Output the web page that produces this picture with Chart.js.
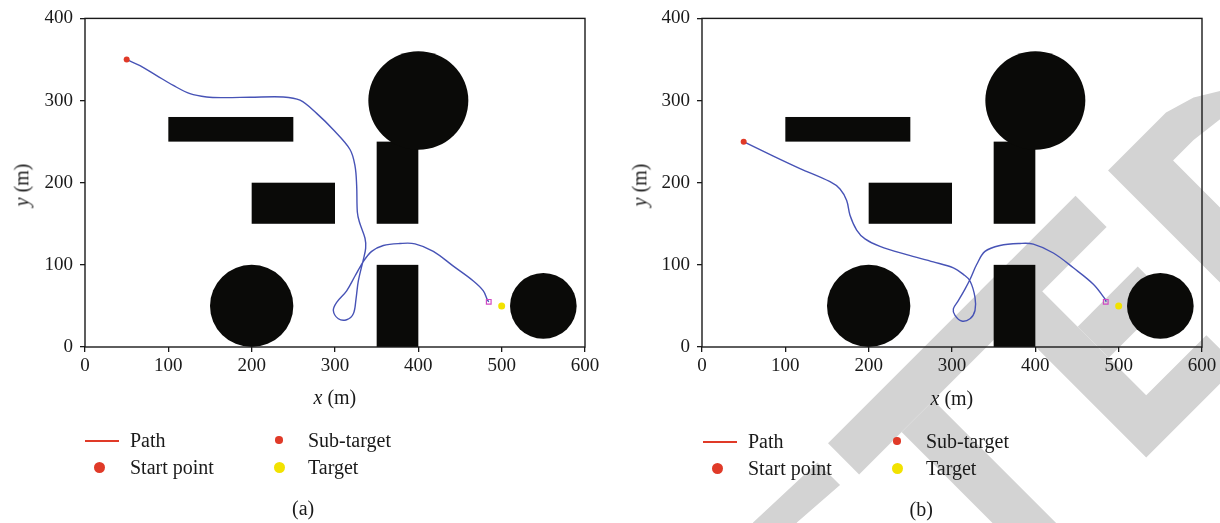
<!DOCTYPE html>
<html>
<head>
<meta charset="utf-8">
<script src="https://cdn.jsdelivr.net/npm/chart.js@4.4.1/dist/chart.umd.min.js"></script>
<style>
  html, body { margin: 0; padding: 0; background: #fff; width: 1220px; height: 523px; overflow: hidden; }
  .panel { position: absolute; top: 0; width: 610px; height: 523px; }
  .panel canvas { position: absolute; left: 0; top: 0; }
  .t { position: absolute; font-family: "Liberation Serif", "Times New Roman", serif; font-size: 20px;
       line-height: 20px; color: #1a1a1a; white-space: nowrap; }
  .line { position: absolute; height: 1.6px; background: #e03a28; }
  .dot { position: absolute; border-radius: 50%; }
</style>
</head>
<body>
<div class="panel" id="pa" style="left:0"><canvas id="ca" width="610" height="523"></canvas></div>
<div class="panel" id="pb" style="left:610px"><canvas id="cb" width="610" height="523"></canvas></div>
<script>
// ---- axes ----
const xTicks = [0, 100, 200, 300, 400, 500, 600];
const yTicks = [0, 100, 200, 300, 400];

// ---- obstacles (metres) ----
const circleCX = [400, 200, 550];
const circleCY = [300, 50, 50];
const circleR  = [60, 50, 40];
const rectX0 = [100, 200, 350, 350];
const rectX1 = [250, 300, 400, 400];
const rectY0 = [250, 150, 150, 0];
const rectY1 = [280, 200, 250, 100];

// ---- start, sub-target and target points ----
const startA = [50, 350];
const startB = [50, 250];
const subTarget = [484.5, 55];
const target = [500, 50];

// ---- planned path (a) ----
const pathAX = [50.8, 66, 86, 106, 126, 146, 166, 198, 238, 258, 278, 298, 318, 324, 326, 326.8, 329.2, 336, 336.8, 334,
                328, 325.2, 322, 314, 304, 298, 302, 314, 324, 334, 344, 358, 378, 396, 418, 442, 466, 478, 482.8, 484.5];
const pathAY = [349.6, 342.4, 330.4, 318.4, 308.4, 304.4, 303.6, 304, 304.4, 300.4, 284.4, 264.4, 240.4, 220.4, 196.4, 164.4, 152.4, 132.4, 120.4, 106.4,
                80.4, 58.4, 40.4, 33.2, 34.4, 44.4, 54.4, 68.4, 86.4, 104, 116.4, 123.6, 126, 125.6, 116.4, 98.4, 80.4, 68.4, 57.6, 55];

// ---- planned path (b) ----
const pathBX = [51, 85.6, 117.6, 153.6, 165.6, 173.6, 177.6, 185.6, 195.6, 213.6, 245.6, 277.6, 301.6, 313.6, 321.6, 327.6, 327.6,
                321.6, 311.6, 303.6, 301.6, 307.6, 315.6, 322, 329.6, 339.6, 357.6, 381.6, 397.6, 421.6, 445.6, 469.6, 483.6, 485];
const pathBY = [249.5, 232.4, 217.2, 201.2, 192.4, 178.4, 160.4, 142.4, 131.6, 122.4, 112.4, 103.6, 96.4, 88.4, 80.4, 60.4, 44.4,
                34.4, 31.6, 38.4, 46.4, 56.4, 70.4, 83, 100.4, 116.4, 123.6, 126, 125.2, 114.4, 96.4, 76.4, 58.4, 55];

const FONT = '"Liberation Serif", "Times New Roman", serif';
const INK = '#1a1a1a';
const PATH_BLUE = '#4753b6';
const RED = '#e03a28';
const YELLOW = '#f2e200';
const MAGENTA = '#d04ac4';

// Diagonal "RETRACTED" watermark pieces, in a frame rotated 45 degrees (u along the text, v across it).
const watermarkShapes = [
  [[120, 912], [163, 902], [251, 905], [251, 937], [194, 933], [150, 948]],
  [[272, 899], [622, 899], [622, 943], [272, 943]],
  [[332, 943], [377, 943], [377, 1134], [332, 1134]],
  [[487, 899], [531, 899], [531, 1090], [616, 1090], [616, 1134], [487, 1134]],
  [[531, 993], [616, 993], [616, 1037], [531, 1037]],
  [[663, 904], [745, 904], [775, 913], [800, 928], [830, 960], [800, 975], [778, 947], [745, 943], [716, 943], [716, 1134], [663, 1134]]
];

const watermarkPlugin = {
  id: 'watermark',
  beforeDraw(chart, args, opts) {
    if (!opts.show) return;
    const ctx = chart.ctx;
    const s = Math.SQRT1_2;
    ctx.save();
    ctx.fillStyle = '#d3d3d3';
    for (const shape of watermarkShapes) {
      ctx.beginPath();
      shape.forEach(([u, v], i) => {
        const x = (u + v) * s - opts.offsetX;
        const y = (v - u) * s;
        if (i === 0) ctx.moveTo(x, y); else ctx.lineTo(x, y);
      });
      ctx.closePath();
      ctx.fill();
    }
    ctx.restore();
  }
};

const obstaclePlugin = {
  id: 'obstacles',
  beforeDatasetsDraw(chart) {
    const { ctx, scales: { x, y } } = chart;
    ctx.save();
    ctx.fillStyle = '#0a0a08';
    for (let i = 0; i < rectX0.length; i++) {
      const px0 = x.getPixelForValue(rectX0[i]);
      const px1 = x.getPixelForValue(rectX1[i]);
      const py0 = y.getPixelForValue(rectY1[i]);
      const py1 = y.getPixelForValue(rectY0[i]);
      ctx.fillRect(px0, py0, px1 - px0, py1 - py0);
    }
    for (let i = 0; i < circleCX.length; i++) {
      const cx = x.getPixelForValue(circleCX[i]);
      const cy = y.getPixelForValue(circleCY[i]);
      const rx = x.getPixelForValue(circleCX[i] + circleR[i]) - cx;
      const ry = cy - y.getPixelForValue(circleCY[i] + circleR[i]);
      ctx.beginPath();
      ctx.ellipse(cx, cy, rx, ry, 0, 0, Math.PI * 2);
      ctx.fill();
    }
    ctx.restore();
  }
};

const framePlugin = {
  id: 'frame',
  afterDraw(chart) {
    const { ctx, chartArea: a } = chart;
    ctx.save();
    ctx.strokeStyle = INK;
    ctx.lineWidth = 1.4;
    ctx.strokeRect(a.left, a.top, a.right - a.left, a.bottom - a.top);
    ctx.restore();
  }
};

function pts(xs, ys) { return xs.map((v, i) => ({ x: v, y: ys[i] })); }

function makeChart(canvasId, px, py, start, axisLeft, padRight, wm) {
  const tickFont = { family: FONT, size: 19 };
  return new Chart(document.getElementById(canvasId), {
    type: 'scatter',
    data: {
      datasets: [
        { data: pts(px, py), showLine: true, borderColor: PATH_BLUE, borderWidth: 1.4, tension: 0.35,
          pointRadius: 0, fill: false, order: 3 },
        { data: [{ x: start[0], y: start[1] }], pointRadius: 3, pointBackgroundColor: RED, pointBorderWidth: 0, order: 1 },
        { data: [{ x: subTarget[0], y: subTarget[1] }], pointStyle: 'rect', pointRadius: 3.3,
          pointBackgroundColor: 'rgba(0,0,0,0)', pointBorderColor: MAGENTA, pointBorderWidth: 1.2, order: 1 },
        { data: [{ x: target[0], y: target[1] }], pointRadius: 3.5, pointBackgroundColor: YELLOW, pointBorderWidth: 0, order: 1 }
      ]
    },
    options: {
      responsive: false,
      animation: false,
      events: [],
      layout: { padding: { left: 0, right: padRight, top: 14, bottom: 0 } },
      plugins: {
        legend: { display: false },
        tooltip: { enabled: false },
        watermark: wm
      },
      scales: {
        x: {
          type: 'linear', min: 0, max: 600,
          afterBuildTicks: s => { s.ticks = xTicks.map(v => ({ value: v })); },
          ticks: { color: INK, font: tickFont, padding: 3, maxRotation: 0, autoSkip: false },
          grid: { drawOnChartArea: false, drawTicks: true, tickLength: 5, color: INK, lineWidth: 1.3 },
          border: { display: false },
          afterFit: s => { s.height = 176; }
        },
        y: {
          type: 'linear', min: 0, max: 400,
          afterBuildTicks: s => { s.ticks = yTicks.map(v => ({ value: v })); },
          ticks: { color: INK, font: tickFont, padding: 7, autoSkip: false },
          grid: { drawOnChartArea: false, drawTicks: true, tickLength: 5, color: INK, lineWidth: 1.3 },
          border: { display: false },
          afterFit: s => { s.width = axisLeft; }
        }
      }
    },
    plugins: [watermarkPlugin, obstaclePlugin, framePlugin]
  });
}

makeChart('ca', pathAX, pathAY, startA, 85, 25, { show: false, offsetX: 0 });
makeChart('cb', pathBX, pathBY, startB, 92, 18, { show: true, offsetX: 610 });

// ---- axis titles, legend and captions ----
function addText(panel, html, left, top, extra) {
  const d = document.createElement('div');
  d.className = 't';
  d.innerHTML = html;
  d.style.left = left + 'px';
  d.style.top = top + 'px';
  if (extra) Object.assign(d.style, extra);
  panel.appendChild(d);
  return d;
}
function addDot(panel, cx, cy, diam, color) {
  const d = document.createElement('div');
  d.className = 'dot';
  Object.assign(d.style, { left: (cx - diam / 2) + 'px', top: (cy - diam / 2) + 'px',
    width: diam + 'px', height: diam + 'px', background: color });
  panel.appendChild(d);
}
function decorate(panelId, dx, dy, caption, xTitleX) {
  const p = document.getElementById(panelId);
  // x-axis title
  const xt = addText(p, '<i>x</i> (m)', 0, 387 + dy);
  xt.style.left = (xTitleX - xt.offsetWidth / 2) + 'px';
  // y-axis title, rotated
  const yt = addText(p, '<i>y</i> (m)', 0, 0);
  const w = yt.offsetWidth;
  Object.assign(yt.style, { left: (21 + dx - w / 2) + 'px', top: (185 - 10) + 'px', transform: 'rotate(-90deg)' });
  // legend
  const l = document.createElement('div');
  l.className = 'line';
  Object.assign(l.style, { left: (85 + dx) + 'px', top: (440 + dy) + 'px', width: '34px' });
  p.appendChild(l);
  addText(p, 'Path', 130 + dx, 430 + dy);
  addDot(p, 99.5 + dx, 467 + dy, 11, RED);
  addText(p, 'Start point', 130 + dx, 457 + dy);
  addDot(p, 279 + dx, 440 + dy, 7.5, RED);
  addText(p, 'Sub-target', 308 + dx, 430 + dy);
  addDot(p, 279 + dx, 467 + dy, 11, YELLOW);
  addText(p, 'Target', 308 + dx, 457 + dy);
  // caption
  const c = addText(p, caption, 0, 498 + dy);
  c.style.left = (303 + dx - c.offsetWidth / 2) + 'px';
}
decorate('pa', 0, 0, '(a)', 335);
decorate('pb', 8, 1, '(b)', 342);
</script>
</body>
</html>
